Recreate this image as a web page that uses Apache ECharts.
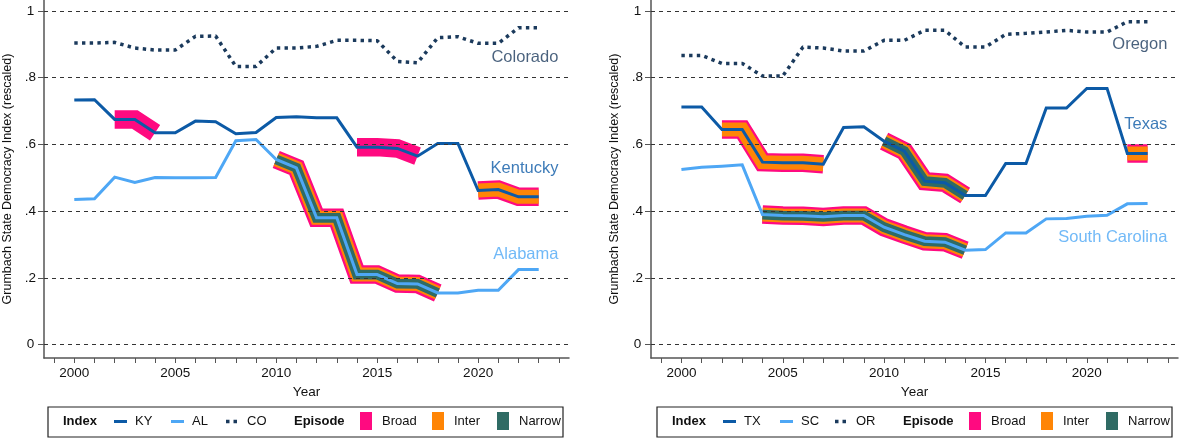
<!DOCTYPE html>
<html>
<head>
<meta charset="utf-8">
<script src="https://cdn.jsdelivr.net/npm/echarts@6/dist/echarts.min.js"></script>
<style>
html,body{margin:0;padding:0;background:#fff;}
#chart{width:1182px;height:438px;}
</style>
</head>
<body>
<div id="chart"></div>
<script>
// ---------- data ----------
const years = [2000,2001,2002,2003,2004,2005,2006,2007,2008,2009,2010,2011,2012,2013,2014,2015,2016,2017,2018,2019,2020,2021,2022,2023];
const yTickValues = [0, 0.2, 0.4, 0.6, 0.8, 1];
const xLabelYears = [2000, 2005, 2010, 2015, 2020];
const xTickYears = [1999,2000,2001,2002,2003,2004,2005,2006,2007,2008,2009,2010,2011,2012,2013,2014,2015,2016,2017,2018,2019,2020,2021,2022,2023,2024];

// left panel
const ky = [0.733,0.734,0.675,0.675,0.635,0.635,0.670,0.668,0.632,0.636,0.681,0.683,0.680,0.680,0.592,0.592,0.588,0.565,0.603,0.603,0.462,0.465,0.443,0.443];
const al = [0.435,0.437,0.502,0.486,0.501,0.500,0.500,0.501,0.611,0.615,0.555,0.530,0.380,0.380,0.210,0.210,0.183,0.182,0.155,0.155,0.163,0.163,0.225,0.225];
const co = [0.904,0.904,0.906,0.889,0.883,0.883,0.924,0.925,0.834,0.834,0.889,0.889,0.894,0.912,0.912,0.911,0.849,0.845,0.920,0.923,0.903,0.903,0.950,0.950];
// right panel
const tx = [0.712,0.712,0.645,0.645,0.547,0.545,0.545,0.541,0.651,0.653,0.610,0.580,0.490,0.485,0.447,0.447,0.543,0.543,0.709,0.709,0.768,0.768,0.573,0.573];
const sc = [0.525,0.532,0.535,0.539,0.390,0.387,0.386,0.383,0.387,0.387,0.352,0.330,0.310,0.307,0.283,0.285,0.335,0.335,0.377,0.378,0.385,0.388,0.422,0.423];
const orr = [0.867,0.867,0.843,0.843,0.805,0.805,0.892,0.889,0.880,0.880,0.912,0.912,0.942,0.942,0.892,0.892,0.930,0.933,0.937,0.942,0.937,0.937,0.968,0.968];

// episodes: [startYear, endYear]
const kyBroad = [[2002,2004],[2014,2017],[2020,2023]];
const kyInter = [[2020,2023]];
const kyNarrow = [];
const alBroad = [[2010,2018]];
const alInter = [[2010,2018]];
const alNarrow = [[2010,2018]];
const txBroad = [[2002,2007],[2010,2014],[2022,2023]];
const txInter = [[2002,2007],[2010,2014],[2022,2023]];
const txNarrow = [[2010,2014]];
const scBroad = [[2004,2014]];
const scInter = [[2004,2014]];
const scNarrow = [[2004,2014]];

// ---------- styles ----------
const COL = {dark:'#0c5aa6', light:'#4ea7f5', navy:'#1b3a5c', pink:'#ff0a80', orange:'#ff8505', teal:'#2f6b64'};
const FONT = '"Liberation Sans", Arial, Helvetica, sans-serif';

function pairs(vals){ return years.map((y,i)=>[y, vals[i]]); }
function slice(vals, a, b){ return years.map((y,i)=>[y, vals[i]]).filter(p=>p[0]>=a && p[0]<=b); }

const series = [];
function gridSeries(idx){
  series.push({type:'line', xAxisIndex:idx, yAxisIndex:idx, data:[], silent:true, z:1,
    markLine:{silent:true, symbol:'none', animation:false, label:{show:false},
      lineStyle:{type:[4,4], color:'#333', width:1},
      data: yTickValues.map(v=>({yAxis:v}))}});
}
function bandSeries(idx, vals, ranges, name, width, color){
  ranges.forEach(r=>{
    series.push({type:'line', name:name, xAxisIndex:idx, yAxisIndex:idx, data:slice(vals, r[0], r[1]),
      symbol:'none', silent:true, z:2,
      lineStyle:{width:width, color:color, cap:'butt', join:'miter', miterLimit:4}});
  });
}
function lineSeries(idx, vals, name, color, dotted){
  series.push({type:'line', name:name, xAxisIndex:idx, yAxisIndex:idx, data:pairs(vals),
    symbol:'none', silent:true, z:3,
    lineStyle: dotted ? {width:3.5, color:color, type:[3.4,4.3], cap:'butt'} : {width:3, color:color, join:'miter'}});
}
function labelSeries(idx, text, x, y, color){
  series.push({type:'scatter', xAxisIndex:idx, yAxisIndex:idx, data:[[x,y]], symbolSize:1,
    itemStyle:{color:'rgba(0,0,0,0)'}, silent:true, z:4,
    label:{show:true, position:'left', distance:0, formatter:text, color:color, fontSize:16.5, fontFamily:FONT}});
}

// left panel
gridSeries(0);
bandSeries(0, ky, kyBroad, 'Broad', 18.5, COL.pink);
bandSeries(0, al, alBroad, 'Broad', 18.5, COL.pink);
bandSeries(0, ky, kyInter, 'Inter', 14, COL.orange);
bandSeries(0, al, alInter, 'Inter', 14, COL.orange);
bandSeries(0, ky, kyNarrow, 'Narrow', 9.8, COL.teal);
bandSeries(0, al, alNarrow, 'Narrow', 9.8, COL.teal);
lineSeries(0, ky, 'KY', COL.dark, false);
lineSeries(0, al, 'AL', COL.light, false);
lineSeries(0, co, 'CO', COL.navy, true);
labelSeries(0, 'Colorado', 2024, 0.860, COL.navy);
labelSeries(0, 'Kentucky', 2024, 0.528, COL.dark);
labelSeries(0, 'Alabama', 2024, 0.270, COL.light);

// right panel
gridSeries(1);
bandSeries(1, tx, txBroad, 'Broad', 18.5, COL.pink);
bandSeries(1, sc, scBroad, 'Broad', 18.5, COL.pink);
bandSeries(1, tx, txInter, 'Inter', 14, COL.orange);
bandSeries(1, sc, scInter, 'Inter', 14, COL.orange);
bandSeries(1, tx, txNarrow, 'Narrow', 9.8, COL.teal);
bandSeries(1, sc, scNarrow, 'Narrow', 9.8, COL.teal);
lineSeries(1, tx, 'TX', COL.dark, false);
lineSeries(1, sc, 'SC', COL.light, false);
lineSeries(1, orr, 'OR', COL.navy, true);
labelSeries(1, 'Oregon', 2024, 0.901, COL.navy);
labelSeries(1, 'Texas', 2024, 0.660, COL.dark);
labelSeries(1, 'South Carolina', 2024, 0.321, COL.light);

function xAxis(idx){
  return {type:'value', gridIndex:idx, min:1998.5, max:2024.5,
    axisLine:{show:true, onZero:false, lineStyle:{color:'#555', width:1.5}},
    axisTick:{show:true, customValues:xTickYears, length:5, lineStyle:{color:'#555', width:1}},
    axisLabel:{customValues:xLabelYears, margin:8.5, fontSize:13.5, color:'#111', fontFamily:FONT, formatter:v=>String(v)},
    splitLine:{show:false},
    name:'Year', nameLocation:'middle', nameGap:23, nameTextStyle:{fontSize:13.5, color:'#111', fontFamily:FONT}};
}
function yAxis(idx){
  return {type:'value', gridIndex:idx, min:-0.04, max:1.033,
    axisLine:{show:true, onZero:false, lineStyle:{color:'#555', width:1.5}},
    axisTick:{show:true, customValues:yTickValues, length:6, lineStyle:{color:'#555', width:1}},
    axisLabel:{customValues:yTickValues, margin:13.5, align:'center', fontSize:13.5, color:'#111', fontFamily:FONT,
      formatter:v=> (v===0 ? '0' : (v===1 ? '1' : String(v).replace(/^0\./,'.')))},
    splitLine:{show:false},
    name:'Grumbach State Democracy Index (rescaled)', nameLocation:'middle', nameGap:30,
    nameTextStyle:{fontSize:12.5, color:'#111', fontFamily:FONT}};
}

// ---------- legend drawn as graphic ----------
function legend(dx, names){
  const cy = 421.5;
  const t = (x, text, bold)=>({type:'text', x:x+dx, y:cy, style:{text:text, fontSize:13, fontWeight:bold?'bold':'normal', fontFamily:FONT, fill:'#111', verticalAlign:'middle', align:'left'}});
  return [
    {type:'rect', shape:{x:48+dx, y:407, width:515, height:30}, style:{fill:'#fff', stroke:'#222', lineWidth:1.2}},
    t(63,'Index',true),
    {type:'line', shape:{x1:114+dx, y1:cy, x2:127+dx, y2:cy}, style:{stroke:COL.dark, lineWidth:3}},
    t(135,names[0]),
    {type:'line', shape:{x1:171+dx, y1:cy, x2:184+dx, y2:cy}, style:{stroke:COL.light, lineWidth:3}},
    t(192,names[1]),
    {type:'line', shape:{x1:226+dx, y1:cy, x2:237+dx, y2:cy}, style:{stroke:COL.navy, lineWidth:3.5, lineDash:[3.5,4]}},
    t(247,names[2]),
    t(294,'Episode',true),
    {type:'rect', shape:{x:360+dx, y:412, width:12, height:18}, style:{fill:COL.pink}},
    t(382,'Broad'),
    {type:'rect', shape:{x:432+dx, y:412, width:12, height:18}, style:{fill:COL.orange}},
    t(454,'Inter'),
    {type:'rect', shape:{x:497+dx, y:412, width:12, height:18}, style:{fill:COL.teal}},
    t(519,'Narrow')
  ];
}

const chart = echarts.init(document.getElementById('chart'), null, {renderer:'canvas'});
chart.setOption({
  animation:false,
  backgroundColor:'#fff',
  textStyle:{fontFamily:FONT},
  grid:[{left:42, top:0, width:527, height:358}, {left:651, top:0, width:527, height:358}],
  xAxis:[xAxis(0), xAxis(1)],
  yAxis:[yAxis(0), yAxis(1)],
  series:series,
  graphic:{elements: legend(0, ['KY','AL','CO']).concat(legend(609, ['TX','SC','OR']))}
});
</script>
</body>
</html>
